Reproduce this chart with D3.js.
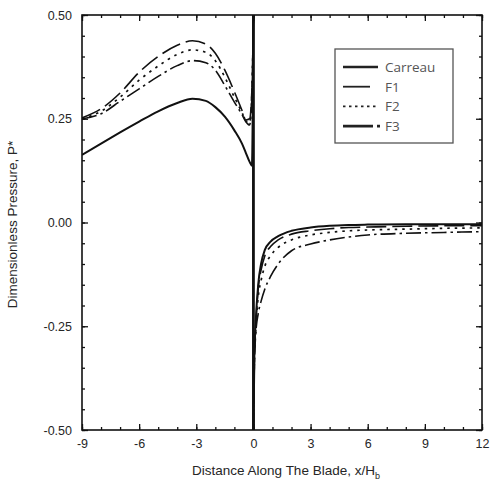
<!DOCTYPE html>
<html><head><meta charset="utf-8">
<script src="https://cdn.jsdelivr.net/npm/d3@7"></script>
<style>body{margin:0;background:#fff}</style>
</head><body>
<script>
// ---- data ----
const seriesNames = ["Carreau", "F1", "F2", "F3"];
const xLeft  = [-9, -8, -7, -6, -5, -4, -3.2, -2.5, -2, -1.5, -1, -0.6, -0.4, -0.2, -0.08, 0];
const carreauLeft = [0.163, 0.19, 0.217, 0.243, 0.268, 0.288, 0.298, 0.293, 0.278, 0.255, 0.222, 0.19, 0.168, 0.146, 0.137, 0.5];
const f1Left      = [0.252, 0.274, 0.312, 0.362, 0.4, 0.427, 0.438, 0.43, 0.408, 0.367, 0.315, 0.27, 0.247, 0.25, 0.32, 0.5];
const f2Left      = [0.25, 0.268, 0.302, 0.343, 0.377, 0.405, 0.416, 0.41, 0.39, 0.35, 0.302, 0.265, 0.245, 0.24, 0.31, 0.5];
const f3Left      = [0.25, 0.262, 0.292, 0.322, 0.352, 0.378, 0.39, 0.385, 0.367, 0.33, 0.29, 0.26, 0.243, 0.235, 0.3, 0.5];
const xRight = [0, 0.05, 0.12, 0.25, 0.4, 0.6, 0.9, 1.3, 2, 3, 4, 5, 6, 8, 10, 12];
const carreauRight = [-0.5, -0.32, -0.24, -0.15, -0.1, -0.066, -0.046, -0.033, -0.02, -0.012, -0.008, -0.006, -0.005, -0.004, -0.004, -0.004];
const f1Right      = [-0.5, -0.33, -0.25, -0.16, -0.115, -0.08, -0.058, -0.042, -0.028, -0.02, -0.015, -0.012, -0.011, -0.009, -0.008, -0.008];
const f2Right      = [-0.5, -0.33, -0.26, -0.18, -0.14, -0.105, -0.08, -0.06, -0.042, -0.03, -0.024, -0.02, -0.018, -0.016, -0.014, -0.013];
const f3Right      = [-0.5, -0.34, -0.27, -0.22, -0.19, -0.16, -0.13, -0.1, -0.068, -0.052, -0.042, -0.035, -0.03, -0.026, -0.024, -0.022];
const xTicks = [-9, -6, -3, 0, 3, 6, 9, 12];
const yTicks = [-0.5, -0.25, 0, 0.25, 0.5];

// ---- layout ----
const W = 490, H = 486;
const m = {left: 82, top: 15, right: 8, bottom: 56};
const iw = W - m.left - m.right, ih = H - m.top - m.bottom;
const svg = d3.select("body").append("svg").attr("width", W).attr("height", H);
const g = svg.append("g").attr("transform", `translate(${m.left},${m.top})`);
const x = d3.scaleLinear().domain([-9, 12]).range([0, iw]);
const y = d3.scaleLinear().domain([-0.5, 0.5]).range([ih, 0]);

svg.append("defs").append("clipPath").attr("id", "clip")
  .append("rect").attr("width", iw).attr("height", ih);

const lefts = [carreauLeft, f1Left, f2Left, f3Left];
const rights = [carreauRight, f1Right, f2Right, f3Right];
const styles = [
  {w: 2.0, dash: null},
  {w: 1.6, dash: "20,6"},
  {w: 1.7, dash: "2.5,5"},
  {w: 1.6, dash: "15,4,2.5,4"}
];
const smooth = d3.line().x(d => x(d[0])).y(d => y(d[1])).curve(d3.curveMonotoneX);
const straight = d3.line().x(d => x(d[0])).y(d => y(d[1]));
const curves = g.append("g").attr("clip-path", "url(#clip)");
function drawPath(pts, st, gen) {
  curves.append("path").datum(pts).attr("d", gen)
    .attr("fill", "none").attr("stroke", "#111").attr("stroke-width", st.w)
    .attr("stroke-linejoin", "round")
    .attr("stroke-dasharray", st.dash);
}
[3, 2, 1, 0].forEach(i => {
  const L = xLeft.map((xv, k) => [xv, lefts[i][k]]);
  const R = xRight.map((xv, k) => [xv, rights[i][k]]);
  drawPath(L, styles[i], smooth);
  drawPath(R, styles[i], smooth);
});
// vertical jump at the blade tip (x = 0), from the Carreau series ends
drawPath([[xLeft[xLeft.length - 1], carreauLeft[carreauLeft.length - 1]], [xRight[0], carreauRight[0]]],
  {w: 2.8, dash: null}, straight);

// ---- axes ----
const fontTick = "'Liberation Sans', Arial, sans-serif";
const txtCol = "#262626";
function styleAxis(sel) {
  sel.select(".domain").remove();
  sel.selectAll("line").attr("stroke", "#111").attr("stroke-width", 1.3);
  sel.selectAll("text").attr("font-family", fontTick).attr("font-size", 12.5).attr("fill", txtCol);
}
const hy = v => String(v).replace("\u2212", "-");
const xMinor = d3.range(-9, 12.01, 1);
const yMinor = d3.range(-0.5, 0.5001, 0.05);
// bottom
g.append("g").attr("transform", `translate(0,${ih})`)
  .call(d3.axisBottom(x).tickValues(xMinor).tickSize(-3).tickFormat("")).call(styleAxis);
g.append("g").attr("transform", `translate(0,${ih})`)
  .call(d3.axisBottom(x).tickValues(xTicks).tickSize(-6).tickPadding(9).tickFormat(d => hy(d3.format("d")(d)))).call(styleAxis);
// top
g.append("g").call(d3.axisTop(x).tickValues(xMinor).tickSize(-3).tickFormat("")).call(styleAxis);
g.append("g").call(d3.axisTop(x).tickValues(xTicks).tickSize(-6).tickFormat("")).call(styleAxis);
// left
g.append("g").call(d3.axisLeft(y).tickValues(yMinor).tickSize(-3).tickFormat("")).call(styleAxis);
g.append("g").call(d3.axisLeft(y).tickValues(yTicks).tickSize(-6).tickPadding(10).tickFormat(d => hy(d3.format(".2f")(d)))).call(styleAxis);
// right
g.append("g").attr("transform", `translate(${iw},0)`)
  .call(d3.axisRight(y).tickValues(yMinor).tickSize(-3).tickFormat("")).call(styleAxis);
g.append("g").attr("transform", `translate(${iw},0)`)
  .call(d3.axisRight(y).tickValues(yTicks).tickSize(-6).tickFormat("")).call(styleAxis);
// frame
g.append("rect").attr("width", iw).attr("height", ih).attr("fill", "none")
  .attr("stroke", "#111").attr("stroke-width", 1.6);

// ---- titles ----
const xt = svg.append("text").attr("x", m.left + iw / 2 + 4).attr("y", 475)
  .attr("text-anchor", "middle").attr("font-family", fontTick).attr("font-size", 13.5).attr("fill", txtCol)
  .text("Distance Along The Blade, x/H");
xt.append("tspan").attr("font-size", 9).attr("dy", 4).text("b");
svg.append("text").attr("transform", `translate(17,${m.top + ih / 2 + 2}) rotate(-90)`)
  .attr("text-anchor", "middle").attr("font-family", fontTick).attr("font-size", 13.5).attr("fill", txtCol)
  .text("Dimensionless Pressure, P*");

// ---- legend ----
const lg = svg.append("g");
lg.append("rect").attr("x", 335).attr("y", 49).attr("width", 118).attr("height", 94)
  .attr("fill", "#fff").attr("stroke", "#555").attr("stroke-width", 1.3);
const legendDash = [null, null, "2.5,3.5", "30,4,3,4"];
const legendLen = [35, 27, 33, 38];
const legendW = [2.6, 1.8, 1.8, 2.6];
seriesNames.forEach((name, i) => {
  const yy = 67 + i * 19.7;
  lg.append("line").attr("x1", 343).attr("x2", 343 + legendLen[i]).attr("y1", yy).attr("y2", yy)
    .attr("stroke", "#222").attr("stroke-width", legendW[i]).attr("stroke-dasharray", legendDash[i]);
  lg.append("text").attr("x", 385).attr("y", yy + 5)
    .attr("font-family", "'Open Sans', sans-serif").attr("font-size", 13.5).attr("fill", "#555")
    .text(name);
});
</script>
</body></html>
